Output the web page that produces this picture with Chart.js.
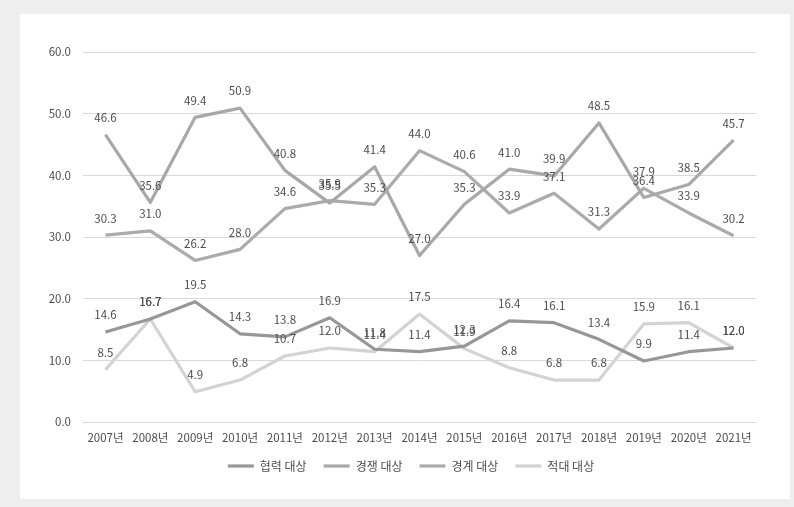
<!DOCTYPE html>
<html>
<head>
<meta charset="utf-8">
<script src="https://cdn.jsdelivr.net/npm/chart.js@4/dist/chart.umd.min.js"></script>
<style>
    html, body { margin: 0; padding: 0; }
    body { width: 794px; height: 507px; background: #eeeeee; position: relative; overflow: hidden; }
    #panel { position: absolute; left: 20px; top: 14px; width: 770px; height: 485px; background: #ffffff; }
    #chart { position: absolute; left: 0; top: 0; }
</style>
</head>
<body>
<div id="panel"></div>
<canvas id="chart" width="794" height="507"></canvas>
<script>
// DATA
// ====
const years = ['2007년', '2008년', '2009년', '2010년', '2011년', '2012년', '2013년', '2014년',
    '2015년', '2016년', '2017년', '2018년', '2019년', '2020년', '2021년'];
const seriesNames = ['협력 대상', '경쟁 대상', '경계 대상', '적대 대상'];
const cooperation = [14.6, 16.7, 19.5, 14.3, 13.8, 16.9, 11.8, 11.4, 12.3, 16.4, 16.1, 13.4, 9.9, 11.4, 12.0];
const competition = [46.6, 35.6, 49.4, 50.9, 40.8, 35.5, 41.4, 27.0, 35.3, 41.0, 39.9, 48.5, 36.4, 38.5, 45.7];
const caution = [30.3, 31.0, 26.2, 28.0, 34.6, 35.9, 35.3, 44.0, 40.6, 33.9, 37.1, 31.3, 37.9, 33.9, 30.2];
const hostile = [8.5, 16.7, 4.9, 6.8, 10.7, 12.0, 11.4, 17.5, 11.9, 8.8, 6.8, 6.8, 15.9, 16.1, 12.0];
const yTicks = [0, 10, 20, 30, 40, 50, 60];

const FONT = '"Noto Sans CJK KR", "Noto Sans", sans-serif';
const TEXT = '#4d4d4d';
const lineColors = ['#979797', '#a8a8a8', '#ababab', '#d3d3d3'];

// Draw the value above each point, like Excel's "above" data labels
const valueLabels = {
    id: 'valueLabels',
    afterDatasetsDraw(chart) {
        const ctx = chart.ctx;
        ctx.save();
        ctx.font = `11.5px ${FONT}`;
        ctx.fillStyle = TEXT;
        ctx.textAlign = 'center';
        ctx.textBaseline = 'middle';
        chart.data.datasets.forEach((ds, i) => {
            const meta = chart.getDatasetMeta(i);
            meta.data.forEach((pt, j) => {
                ctx.fillText(ds.data[j].toFixed(1), pt.x, pt.y - 17);
            });
        });
        ctx.restore();
    }
};

// The reference legend sits a bit right of the canvas centre
const legendShift = {
    id: 'legendShift',
    afterLayout(chart) {
        if (!chart.legend) return;
        chart.legend.left = 62;
        chart.legend.right = 760;
    }
};

const seriesData = [cooperation, competition, caution, hostile];

new Chart(document.getElementById('chart'), {
    type: 'line',
    data: {
        labels: years,
        datasets: seriesNames.map((name, i) => ({
            label: name,
            data: seriesData[i],
            borderColor: lineColors[i],
            backgroundColor: lineColors[i],
            borderWidth: 3.2,
            borderJoinStyle: 'round',
            tension: 0,
            pointRadius: 0,
            pointHoverRadius: 0,
        })),
    },
    options: {
        responsive: false,
        animation: false,
        devicePixelRatio: 1,
        layout: {
            padding: { top: 52, right: 38, left: 0, bottom: 25 },
        },
        plugins: {
            legend: {
                position: 'bottom',
                labels: {
                    usePointStyle: true,
                    pointStyle: 'line',
                    pointStyleWidth: 26,
                    padding: 17,
                    color: TEXT,
                    font: { family: FONT, size: 12 },
                },
            },
            tooltip: { enabled: false },
        },
        scales: {
            x: {
                offset: true,
                grid: { display: false, drawTicks: false },
                border: { display: false },
                ticks: {
                    color: TEXT,
                    padding: 9,
                    maxRotation: 0,
                    autoSkip: false,
                    font: { family: FONT, size: 11.5 },
                },
                afterFit: (scale) => { scale.height = 21; },
            },
            y: {
                min: yTicks[0],
                max: yTicks[yTicks.length - 1],
                grid: { color: '#d9d9d9', lineWidth: 1, drawTicks: false },
                border: { display: false },
                ticks: {
                    stepSize: 10,
                    color: TEXT,
                    padding: 12,
                    font: { family: FONT, size: 11.5 },
                    callback: (v) => Number(v).toFixed(1),
                },
                afterFit: (scale) => { scale.width = 83; },
            },
        },
    },
    plugins: [valueLabels, legendShift],
});
</script>
</body>
</html>
